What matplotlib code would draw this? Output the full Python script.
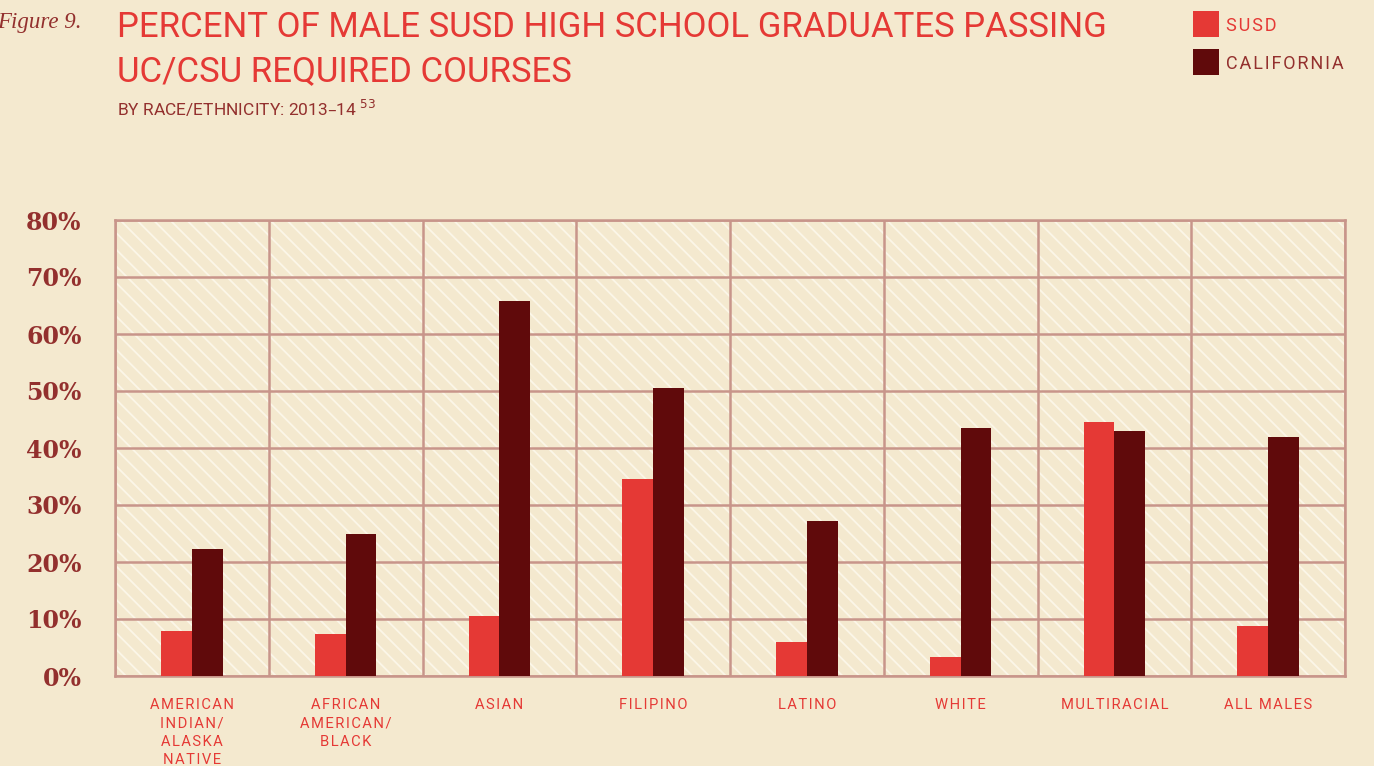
import matplotlib
matplotlib.use('Agg')
import numpy as np
import matplotlib.pyplot as plt
from matplotlib.patches import Rectangle

# data
groups = ["AMERICAN\nINDIAN/\nALASKA\nNATIVE", "AFRICAN\nAMERICAN/\nBLACK", "ASIAN",
          "FILIPINO", "LATINO", "WHITE", "MULTIRACIAL", "ALL MALES"]
susd = [7.9, 7.4, 10.5, 34.6, 6.0, 3.3, 44.6, 8.8]
california = [22.3, 24.9, 65.8, 50.5, 27.2, 43.5, 43.0, 41.9]
yticks = [0, 10, 20, 30, 40, 50, 60, 70, 80]

BG = '#F4E9CF'
RED = '#E53935'
DARK = '#600A0B'
GRID = '#C8958A'
TXT = '#93302E'
SANS = ['Roboto', 'DejaVu Sans']
SERIF = ['DejaVu Serif']


def spaced(s):
    # fake letter spacing with hair spaces
    return '\n'.join('\u200a'.join(line) for line in s.split('\n'))


plt.rcParams['hatch.linewidth'] = 1.3

fig = plt.figure(figsize=(13.74, 7.66), dpi=100, facecolor=BG)
ax = fig.add_axes([115/1374, 1-676/766, 1230/1374, 456/766])
ax.set_facecolor(BG)

# diagonal hatch behind the bars
ax.add_patch(Rectangle((0, 0), 1, 1, transform=ax.transAxes, facecolor=BG,
                       edgecolor='#FBF6E8', hatch='\\\\', lw=0, zorder=0))

x = np.arange(len(groups))
w = 0.2
ax.bar(x - w/2, susd, w, color=RED, zorder=3)
ax.bar(x + w/2, california, w, color=DARK, zorder=3)

ax.set_xlim(-0.5, len(groups) - 0.5)
ax.set_ylim(0, 80)
ax.set_yticks(yticks)
ax.set_yticklabels(['%d%%' % v for v in yticks], family=SERIF,
                   fontweight='bold', fontsize=17, color=TXT)
ax.set_xticks(x)
ax.set_xticklabels([spaced(g) for g in groups], family=SANS, fontsize=10.6, color=RED,
                   va='top', linespacing=1.4)
ax.set_xticks(np.arange(len(groups) + 1) - 0.5, minor=True)
ax.tick_params(axis='both', which='both', length=0)
ax.tick_params(axis='y', pad=24)
ax.tick_params(axis='x', pad=16)
ax.grid(axis='y', which='major', color=GRID, lw=1.8, zorder=1)
ax.grid(axis='x', which='minor', color=GRID, lw=1.8, zorder=1)
ax.set_axisbelow(True)
for s in ax.spines.values():
    s.set_color(GRID)
    s.set_linewidth(1.8)

# titles
fig.text(82/1374, 1-28/766, 'Figure 9.', family=['Liberation Serif', 'DejaVu Serif'],
         style='italic', fontsize=16.5, color=TXT, ha='right', va='baseline')
fig.text(117/1374, 1-37/766, 'PERCENT OF MALE SUSD HIGH SCHOOL GRADUATES PASSING',
         family=SANS, fontsize=25, color=RED, va='baseline')
fig.text(117/1374, 1-81/766, 'UC/CSU REQUIRED COURSES',
         family=SANS, fontsize=25, color=RED, va='baseline')
fig.text(117/1374, 1-116/766, 'BY RACE/ETHNICITY: 2013\u201314 $^{53}$',
         family=SANS, fontsize=12.5, color=TXT, va='baseline')

# legend
for i, (lab, col, tcol) in enumerate([('SUSD', RED, RED), ('CALIFORNIA', DARK, TXT)]):
    y0 = 1 - (37 + 38*i)/766
    fig.patches.append(Rectangle((1193/1374, y0), 26/1374, 26/766, transform=fig.transFigure,
                                 facecolor=col, lw=0))
    fig.text(1226/1374, y0 + 6/766, spaced(lab), family=SANS, fontsize=13, color=tcol,
             va='baseline')

fig.savefig('out.png', dpi=100, facecolor=BG)
